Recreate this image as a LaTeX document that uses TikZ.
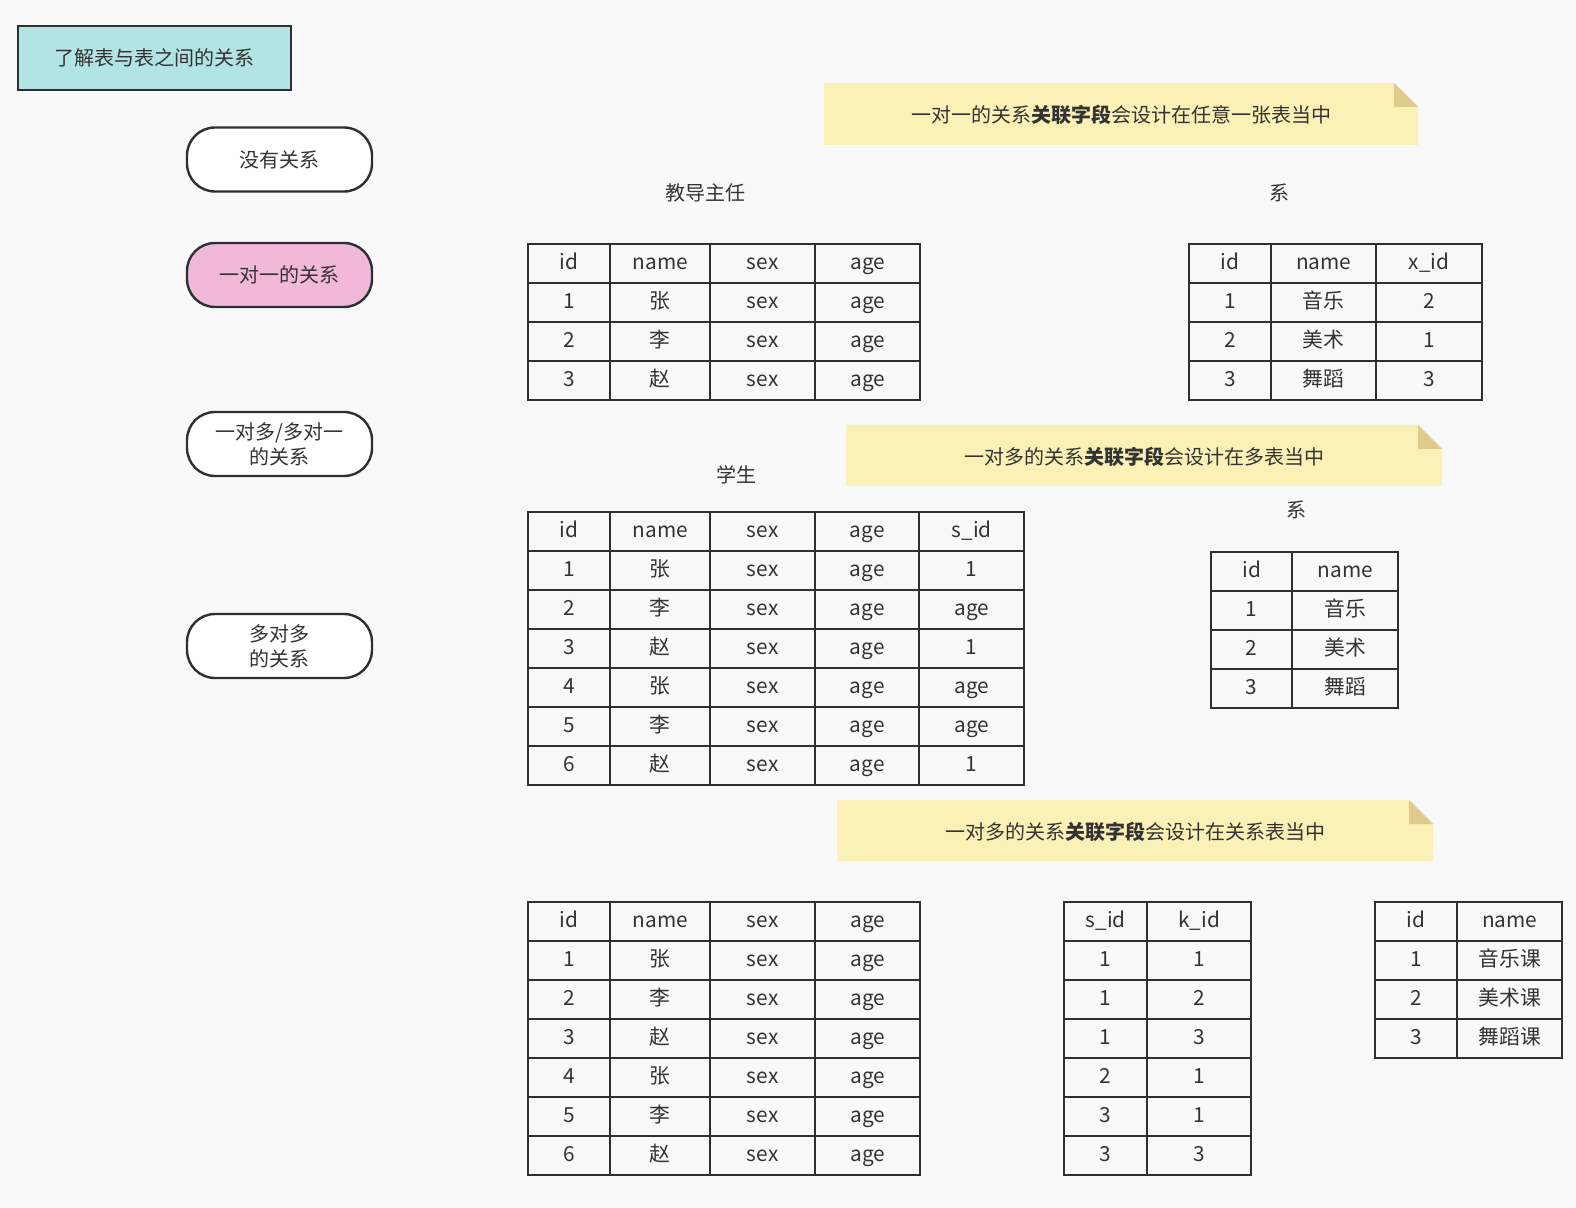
\documentclass[tikz,border=0pt]{standalone}
\usepackage{fontspec}
\setmainfont{Noto Sans CJK SC}
\usetikzlibrary{matrix}
\definecolor{bgcol}{HTML}{F9F9F9}
\definecolor{inkcol}{HTML}{333333}
\definecolor{linecol}{HTML}{2B3034}
\definecolor{titlecol}{HTML}{B1E4E3}
\definecolor{pinkcol}{HTML}{F1B8D8}
\definecolor{notecol}{HTML}{FBF0B6}
\definecolor{foldcol}{HTML}{E0CC8A}
\tikzset{
  cell/.style={draw=linecol, line width=1.2pt, minimum height=19.5pt, inner sep=0pt,
    text height=7.5pt, text depth=1.5pt, anchor=center, text=inkcol,
    font=\fontsize{10.4pt}{12pt}\selectfont},
  tbl/.style={matrix of nodes, nodes={cell}, column sep=-1.2pt, row sep=-1.2pt,
    anchor=north west, inner sep=0pt, outer sep=0pt},
  colw/.style 2 args={column #1/.style={nodes={minimum width=#2}}},
  pill/.style={draw=linecol, line width=1.2pt, rounded corners=14pt, minimum width=92.5pt,
    minimum height=32pt, align=center, text=inkcol, font=\fontsize{10pt}{12.5pt}\selectfont},
  caption/.style={text=inkcol},
  notetext/.style={text=inkcol}
}
\begin{document}
\begin{tikzpicture}[x=0.5pt, y=-0.5pt, font=\fontsize{10pt}{11.5pt}\selectfont]
\fill[bgcol] (0,0) rectangle (1576,1208);
\useasboundingbox (0,0) rectangle (1576,1208);

\node[draw=linecol, line width=1.2pt, fill=titlecol, minimum width=136.5pt, minimum height=32pt, text=inkcol] (title) at (154.5,58) {了解表与表之间的关系};

\node[pill, fill=white] (none) at (279.5,159.5) {没有关系};
\node[pill, fill=pinkcol] (oneone) at (279.5,275) {一对一的关系};
\node[pill, fill=white] (onemany) at (279.5,444) {一对多/多对一\\的关系};
\node[pill, fill=white] (manymany) at (279.5,646) {多对多\\的关系};

\fill[notecol] (824,83) -- (1394,83) -- (1418,107) -- (1418,145) -- (824,145) -- cycle;
\fill[foldcol] (1394,83) -- (1418,107) -- (1394,107) -- cycle;
\node[notetext] (note1) at (1121,115) {一对一的关系\textbf{关联字段}会设计在任意一张表当中};

\fill[notecol] (846,425) -- (1418,425) -- (1442,449) -- (1442,486) -- (846,486) -- cycle;
\fill[foldcol] (1418,425) -- (1442,449) -- (1418,449) -- cycle;
\node[notetext] (note2) at (1144,457) {一对多的关系\textbf{关联字段}会设计在多表当中};

\fill[notecol] (837,800) -- (1409,800) -- (1433,824) -- (1433,861) -- (837,861) -- cycle;
\fill[foldcol] (1409,800) -- (1433,824) -- (1409,824) -- cycle;
\node[notetext] (note3) at (1135,832) {一对多的关系\textbf{关联字段}会设计在关系表当中};

\node[caption] (teachercap) at (705,193) {教导主任};
\node[caption] (deptcap) at (1279,193) {系};
\node[caption] (studentcap) at (736,475) {学生};
\node[caption] (dept2cap) at (1296,510) {系};

\matrix (teacher) [tbl, colw={1}{41pt}, colw={2}{50pt}, colw={3}{52.5pt}, colw={4}{52.5pt}] at (527,243) {
id & name & sex & age \\
1 & 张 & sex & age \\
2 & 李 & sex & age \\
3 & 赵 & sex & age \\
};

\matrix (dept) [tbl, colw={1}{41pt}, colw={2}{52.5pt}, colw={3}{53pt}] at (1188,243) {
id & name & x\_id \\
1 & 音乐 & 2 \\
2 & 美术 & 1 \\
3 & 舞蹈 & 3 \\
};

\matrix (student) [tbl, colw={1}{41pt}, colw={2}{50pt}, colw={3}{52.5pt}, colw={4}{52pt}, colw={5}{52.5pt}] at (527,511) {
id & name & sex & age & s\_id \\
1 & 张 & sex & age & 1 \\
2 & 李 & sex & age & age \\
3 & 赵 & sex & age & 1 \\
4 & 张 & sex & age & age \\
5 & 李 & sex & age & age \\
6 & 赵 & sex & age & 1 \\
};

\matrix (dept2) [tbl, colw={1}{40.5pt}, colw={2}{53pt}] at (1210,551) {
id & name \\
1 & 音乐 \\
2 & 美术 \\
3 & 舞蹈 \\
};

\matrix (pupil) [tbl, colw={1}{41pt}, colw={2}{50pt}, colw={3}{52.5pt}, colw={4}{52.5pt}] at (527,901) {
id & name & sex & age \\
1 & 张 & sex & age \\
2 & 李 & sex & age \\
3 & 赵 & sex & age \\
4 & 张 & sex & age \\
5 & 李 & sex & age \\
6 & 赵 & sex & age \\
};

\matrix (link) [tbl, colw={1}{41.5pt}, colw={2}{52pt}] at (1063,901) {
s\_id & k\_id \\
1 & 1 \\
1 & 2 \\
1 & 3 \\
2 & 1 \\
3 & 1 \\
3 & 3 \\
};

\matrix (course) [tbl, colw={1}{41pt}, colw={2}{52.5pt}] at (1374,901) {
id & name \\
1 & 音乐课 \\
2 & 美术课 \\
3 & 舞蹈课 \\
};
\end{tikzpicture}
\end{document}
